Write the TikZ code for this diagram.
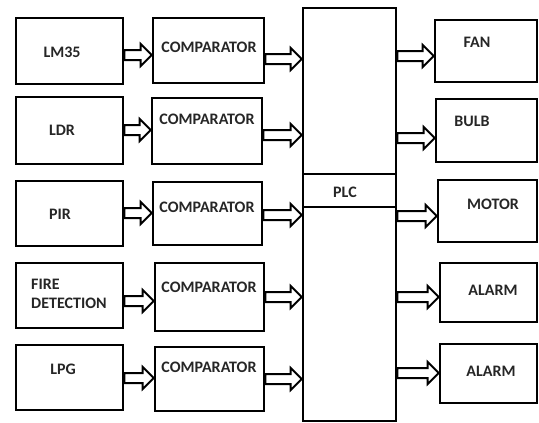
\documentclass[tikz,border=0pt]{standalone}
\usepackage{fontspec}
\setmainfont{Carlito}
\usetikzlibrary{fit,calc}
\tikzset{
  box/.style={draw=black, line width=2.6pt, inner sep=0pt, rectangle},
  lbl/.style={font=\bfseries\fontsize{16}{18}\selectfont, text=black!85, inner sep=0pt},
  hol/.style={draw=black, fill=white, line width=2pt, line join=miter,
    to path={let \p1=(\tikztostart), \p2=(\tikztotarget) in
      (\x1,\y1+5pt) -- (\x2-11pt,\y1+5pt) -- (\x2-11pt,\y1+11pt) -- (\x2,\y1)
      -- (\x2-11pt,\y1-11pt) -- (\x2-11pt,\y1-5pt) -- (\x1,\y1-5pt) -- cycle}}
}
\begin{document}
\begin{tikzpicture}[x=1pt,y=-1pt]
\useasboundingbox (0,0) rectangle (539,423);
% sensors
\node[box, fit={(16,18) (123,84)}] (s1) {};
\node[box, fit={(16,97) (123,164)}] (s2) {};
\node[box, fit={(16,181) (123,246)}] (s3) {};
\node[box, fit={(16,263) (123,328)}] (s4) {};
\node[box, fit={(16,345) (123,410)}] (s5) {};
% comparators
\node[box, fit={(153,18) (264,83)}] (c1) {};
\node[box, fit={(152,98) (262,164)}] (c2) {};
\node[box, fit={(153,182) (262,245)}] (c3) {};
\node[box, fit={(155,263) (264,331)}] (c4) {};
\node[box, fit={(155,347) (264,411)}] (c5) {};
% PLC
\node[box, fit={(303,8) (396,174)}] (plctop) {};
\node[box, fit={(303,174) (396,207)}] (plc) {};
\node[box, fit={(303,207) (396,421)}] (plcbot) {};
% outputs
\node[box, fit={(435,20) (537,82)}] (o1) {};
\node[box, fit={(436,99) (537,162)}] (o2) {};
\node[box, fit={(438,180) (537,242)}] (o3) {};
\node[box, fit={(440,263) (537,322)}] (o4) {};
\node[box, fit={(440,344) (537,403)}] (o5) {};
% labels
\node[lbl] (t1) at (62,52) {LM35};
\node[lbl] (t2) at (62,130) {LDR};
\node[lbl] (t3) at (60,214) {PIR};
\node[lbl, anchor=west] (t4a) at (31,284) {FIRE};
\node[lbl, anchor=west] (t4b) at (31,303) {DETECTION};
\node[lbl] (t5) at (63,369) {LPG};
\node[lbl] (tc1) at (209,47) {COMPARATOR};
\node[lbl] (tc2) at (207,119) {COMPARATOR};
\node[lbl] (tc3) at (207,207) {COMPARATOR};
\node[lbl] (tc4) at (209,287) {COMPARATOR};
\node[lbl] (tc5) at (209,367) {COMPARATOR};
\node[lbl] (tplc) at (345,192) {PLC};
\node[lbl] (to1) at (477,42) {FAN};
\node[lbl] (to2) at (472,121) {BULB};
\node[lbl] (to3) at (493,204) {MOTOR};
\node[lbl] (to4) at (493,290) {ALARM};
\node[lbl] (to5) at (491,371) {ALARM};
% arrows sensor -> comparator
\draw[hol] (s1.east |- 0,55) to (c1.west |- 0,55);
\draw[hol] (s2.east |- 0,130) to (c2.west |- 0,130);
\draw[hol] (s3.east |- 0,213) to (c3.west |- 0,213);
\draw[hol] (s4.east |- 0,301) to (c4.west |- 0,301);
\draw[hol] (s5.east |- 0,378) to (c5.west |- 0,378);
% comparator -> PLC
\draw[hol] (c1.east |- 0,59) to (plctop.west |- 0,59);
\draw[hol] (c2.east |- 0,135) to (plctop.west |- 0,135);
\draw[hol] (c3.east |- 0,215) to (plcbot.west |- 0,215);
\draw[hol] (c4.east |- 0,297) to (plcbot.west |- 0,297);
\draw[hol] (c5.east |- 0,379) to (plcbot.west |- 0,379);
% PLC -> outputs
\draw[hol] (plctop.east |- 0,56) to (o1.west |- 0,56);
\draw[hol] (plctop.east |- 0,138) to (o2.west |- 0,138);
\draw[hol] (plcbot.east |- 0,216) to (o3.west |- 0,216);
\draw[hol] (plcbot.east |- 0,297) to (o4.west |- 0,297);
\draw[hol] (plcbot.east |- 0,373) to (o5.west |- 0,373);
\end{tikzpicture}
\end{document}
